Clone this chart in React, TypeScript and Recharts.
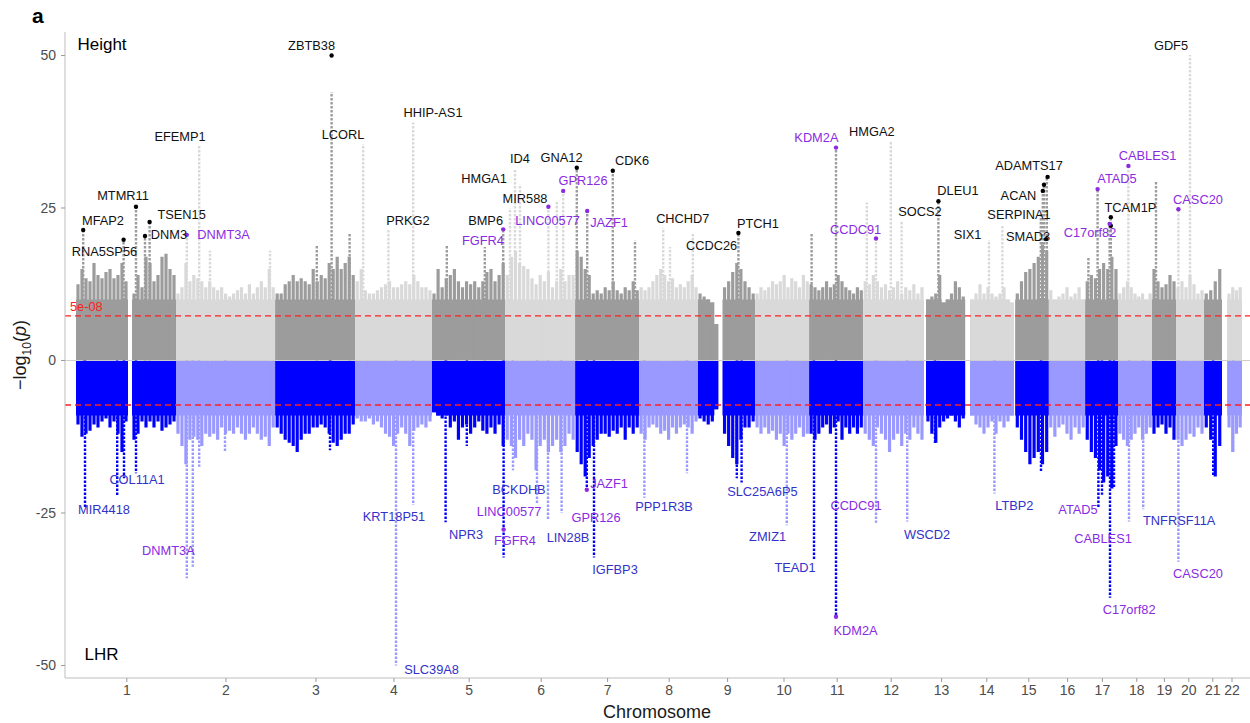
import React from "react";
import { ComposedChart, Area, Line, Scatter, XAxis, YAxis, ReferenceLine } from "recharts";

const FONT = "'Liberation Sans', Arial, sans-serif";

// chromosome layout, cumulative position in Mb
const chromosomes = ["1", "2", "3", "4", "5", "6", "7", "8", "9", "10", "11", "12", "13", "14", "15", "16", "17", "18", "19", "20", "21", "22"];
const chrStart = [0, 250, 498, 698, 890, 1073, 1248, 1408, 1555, 1698, 1833, 1968, 2125, 2235, 2348, 2432, 2523, 2605, 2690, 2750, 2820, 2878];
const chrEnd = [250, 498, 698, 890, 1073, 1248, 1408, 1555, 1698, 1833, 1968, 2120, 2223, 2345, 2432, 2523, 2605, 2690, 2750, 2820, 2865, 2915];
const chrCenter = [127, 375, 600, 795, 983, 1163, 1329, 1483, 1629, 1770, 1903, 2038, 2164, 2277, 2382, 2479, 2566, 2652, 2721, 2782, 2842, 2890];

// level up to which the SNP cloud is solid
const solidHeight = 10;
const solidLhr = -9;

// max -log10(p) of the dense cloud, per equal-width bin along each chromosome
const heightBins = [
  [12.5, 15, 13.5, 13, 16, 14, 13.5, 14.5, 15, 13.5, 14, 16, 13, 0, 11, 14, 12, 17, 16, 13, 14, 17, 17.5, 15, 14],
  [11, 12, 16, 13, 14, 13.5, 13, 12, 13, 12, 11.5, 12, 11, 10.5, 11, 11.5, 12, 11, 12.5, 11, 12, 13, 12, 15, 12],
  [11, 11, 12.5, 13, 14, 13, 13.5, 13, 12.5, 15, 13, 14, 13.5, 16, 15, 17, 15, 16, 17, 14],
  [13, 15, 11.5, 11, 11, 11.5, 12, 12.5, 13, 12, 12, 12.5, 13, 12.5, 14, 13, 12, 12, 11.5],
  [11, 15, 12, 13.5, 14, 15, 13, 12, 13, 12.5, 13, 12, 13, 14.5, 15, 13, 14, 16],
  [14, 17, 18, 16, 15.5, 15, 13.5, 12.5, 14, 13, 14.5, 12, 13, 15, 13, 14, 14],
  [18, 17, 15, 14, 11, 11.5, 11, 12, 11.5, 13, 11.5, 11, 12, 11.5, 13, 11.5],
  [12, 11.5, 12, 13, 14, 15, 14, 13, 13.5, 12, 12.5, 12, 13, 14, 12],
  [11, 10.5, 10, 9.5, 6, 0, 12, 13, 14.5, 16, 15, 13, 12, 11],
  [11, 12, 11.5, 12, 13, 12.5, 13, 14, 12, 13.5, 13, 12, 14, 13],
  [12.5, 12, 11.5, 12, 13, 12, 12.5, 14, 13, 12, 11.5, 11, 12, 11.5],
  [13, 12.5, 14, 13, 12, 12.5, 11.5, 12, 13, 11, 12, 11.5, 12.5, 11, 12],
  [10, 10.5, 11, 14, 9.5, 10, 11, 13, 12, 10.5],
  [10, 11, 12.5, 11, 12, 11, 10.5, 11, 12, 10, 9.5],
  [11, 13, 14.5, 15, 16, 17, 19, 18],
  [11.5, 10, 10.5, 11, 12, 10.5, 11, 12, 10],
  [13, 14, 13.5, 15, 16, 15, 17, 15],
  [11, 12, 13, 12, 11, 10.5, 11, 10, 11],
  [15, 13, 12, 12.5, 14, 13],
  [12, 13, 12, 14, 12.5, 11, 11.5],
  [11, 11.5, 13, 15],
  [11, 12, 11.5, 12],
];

const lhrBins = [
  [-10.5, -12.5, -12, -11.5, -10.5, -11, -10, -9.5, -11, -10, -12, -15, -10, 0, -13, -12, -10, -11, -10, -11, -10, -11.5, -11, -10.5, -10],
  [-12, -14, -17, -13, -12.5, -13, -14, -12, -12.5, -12, -13, -11, -12, -11.5, -12, -11, -12, -13, -12, -11, -12, -13, -12.5, -14, -11],
  [-11, -12, -13, -13.5, -14, -15, -13, -12, -12, -11, -11, -10.5, -11, -12, -13.5, -14, -13, -12, -12, -10.5],
  [-9.5, -10, -10, -9.5, -10.5, -10, -11, -12, -12.5, -14, -12, -11, -12, -14, -11.5, -11, -10.5, -11, -10],
  [-8.5, -9, -9.5, -9, -11, -10, -13, -11, -10.5, -12, -11, -10, -11.5, -12, -11, -12, -10.5, -14],
  [-13, -14, -16, -13, -14, -12, -13, -18, -14, -13, -15, -14, -13, -15, -14, -12, -13],
  [-15, -17, -19, -16, -14, -13, -12, -12, -12.5, -11.5, -12, -11, -13, -11, -12, -11],
  [-12, -13, -11, -10.5, -11, -12, -11.5, -13, -11, -12, -11, -10.5, -11, -12, -10],
  [-9.5, -10, -10.5, -10, -8, 0, -12, -14, -16, -17, -13, -11, -11, -10],
  [-11, -12, -11, -12, -11.5, -13, -12, -14, -12, -13, -12, -11, -12.5, -12],
  [-12, -13, -12, -11, -10.5, -12, -11, -10, -13, -11, -12, -11, -12, -11],
  [-12, -13, -14, -11, -12, -13, -15, -13, -12, -14, -12, -13, -11, -12, -13],
  [-10, -12, -13.5, -11, -10, -9.5, -9, -10, -11, -9.5],
  [-9, -10.5, -11, -12, -11, -10, -12, -10, -11, -10, -9],
  [-11, -13, -15, -17, -16, -15, -17, -15],
  [-11, -12.5, -11, -10.5, -12, -13, -11, -12, -11],
  [-13, -15, -16, -18, -20, -19, -21, -14],
  [-12, -13, -14, -13, -12, -11, -13, -12, -11],
  [-12, -11, -10.5, -12, -11, -13],
  [-13, -14, -13, -12, -12.5, -11, -12],
  [-11, -13, -19, -14],
  [-11, -15, -12, -11],
];

// [chromosome, position, top of the column]
const heightPeaks: [number, number, number][] = [
  [1, 18, 21.4], [1, 119, 19.8], [1, 150, 25.2], [1, 172.5, 20.4], [1, 184, 22.7],
  [2, 277, 20.6], [2, 308, 35.2], [2, 335, 18], [2, 485, 18],
  [3, 602, 19], [3, 639, 44], [3, 684, 21],
  [4, 718, 35.5], [4, 781, 21.4], [4, 843, 39],
  [5, 927, 19], [5, 1022, 18.6], [5, 1068, 21.5],
  [6, 1085, 25], [6, 1097.5, 31.3], [6, 1110, 28.9], [6, 1181, 25.2], [6, 1202, 26], [6, 1218, 27.8],
  [7, 1252, 31.6], [7, 1278, 24.5], [7, 1342, 31.1], [7, 1397.5, 19.7],
  [8, 1468, 21.7], [8, 1485, 18.6], [8, 1542, 20.9],
  [9, 1656, 20.9],
  [11, 1839, 20.9], [11, 1900, 34.9],
  [12, 1977, 25.9], [12, 2000, 20], [12, 2037, 36], [12, 2064, 23],
  [13, 2156, 26.1],
  [14, 2282.5, 19.75], [14, 2316, 22.1],
  [15, 2412, 24], [15, 2417, 27.8], [15, 2420, 28.8], [15, 2427, 30.1],
  [17, 2531, 17], [17, 2554, 28.1], [17, 2584, 22.9], [17, 2587, 23.5],
  [18, 2631, 31.9],
  [19, 2700, 29.5],
  [20, 2756, 24.8], [20, 2785, 50.1],
];

const lhrPeaks: [number, number, number][] = [
  [1, 22.5, -24], [1, 103, -22.3], [1, 120, -19.3], [1, 150, -18.5],
  [2, 277, -35.7], [2, 292, -33.8], [2, 308, -17.4], [2, 372.5, -15],
  [3, 635, -14.7],
  [4, 800, -50], [4, 843, -23.7],
  [5, 924, -26.5], [5, 977, -14], [5, 1069, -32.3],
  [6, 1092.5, -18], [6, 1152.5, -23.4], [6, 1180, -26], [6, 1214, -25],
  [7, 1277, -21.2], [7, 1295, -32.3],
  [8, 1421, -22.5], [8, 1527.5, -18.5],
  [9, 1652, -19.3], [9, 1664, -20],
  [10, 1777, -27],
  [11, 1845, -32.6], [11, 1900, -42],
  [12, 2000, -26.6], [12, 2078, -26.4],
  [13, 2147.5, -13.6],
  [14, 2296, -21.8],
  [15, 2412.5, -18.2],
  [17, 2556, -24], [17, 2565, -22], [17, 2585, -38.9], [17, 2595, -21],
  [18, 2632.5, -26.4], [18, 2668, -24.4],
  [20, 2756, -33],
  [21, 2843, -19],
  [22, 2892.5, -15.1],
];

// lead SNPs: [gene, position, value, group]
const leadHits: [string, number, number, string][] = [
  ["MFAP2", 18, 21.4, "height"], ["RNA5SP56", 119, 19.8, "height"], ["MTMR11", 150, 25.2, "height"],
  ["DNM3", 172.5, 20.4, "height"], ["TSEN15", 184, 22.7, "height"], ["ZBTB38", 639, 50, "height"],
  ["GNA12", 1252, 31.6, "height"], ["CDK6", 1342, 31.1, "height"], ["PTCH1", 1656, 20.9, "height"],
  ["DLEU1", 2156, 26.1, "height"], ["ACAN", 2417, 27.8, "height"], ["ACAN", 2420, 28.8, "height"],
  ["ADAMTS17", 2429, 30.1, "height"], ["SMAD3", 2425, 19.9, "height"], ["TCAM1P", 2587, 23.5, "height"],
  ["TCAM1P", 2587, 22.1, "height"],
  ["DNMT3A", 277, 20.6, "shared"], ["FGFR4", 1068, 21.5, "shared"], ["LINC00577", 1181, 25.2, "shared"],
  ["GPR126", 1218, 27.8, "shared"], ["JAZF1", 1278, 24.5, "shared"], ["KDM2A", 1900, 34.9, "shared"],
  ["CCDC91", 2000, 20, "shared"], ["ATAD5", 2554, 28.1, "shared"], ["C17orf82", 2584, 22.4, "shared"],
  ["CABLES1", 2631, 31.9, "shared"], ["CASC20", 2756, 24.8, "shared"],
  ["FGFR4", 1069, -27.7, "shared"], ["JAZF1", 1277, -21.2, "shared"], ["KDM2A", 1900, -42, "shared"],
];

// gene labels: [text, position, value, group]
const geneLabels: [string, number, number, string][] = [
  ["ZBTB38", 589, 51.7, "height"], ["EFEMP1", 260, 36.7, "height"], ["MTMR11", 117.5, 27.1, "height"],
  ["MFAP2", 67.5, 23, "height"], ["TSEN15", 264, 24, "height"], ["DNM3", 232.5, 20.6, "height"],
  ["DNMT3A", 369, 20.6, "shared"], ["RNA5SP56", 71, 17.8, "height"], ["LCORL", 667.5, 37.1, "height"],
  ["HHIP-AS1", 892.5, 40.7, "height"], ["PRKG2", 830, 22.9, "height"], ["ID4", 1110, 33.1, "height"],
  ["GNA12", 1214, 33.2, "height"], ["HMGA1", 1020, 29.8, "height"], ["CDK6", 1390, 32.8, "height"],
  ["GPR126", 1267.5, 29.5, "shared"], ["MIR588", 1122.5, 26.6, "height"], ["BMP6", 1024, 23, "height"],
  ["LINC00577", 1179, 23, "shared"], ["JAZF1", 1332.5, 22.6, "shared"], ["FGFR4", 1017.5, 19.6, "shared"],
  ["CHCHD7", 1517, 23.3, "height"], ["PTCH1", 1705, 22.5, "height"], ["CCDC26", 1589, 18.8, "height"],
  ["KDM2A", 1851, 36.5, "shared"], ["HMGA2", 1989.5, 37.5, "height"], ["CCDC91", 1949, 21.5, "shared"],
  ["SOCS2", 2110, 24.5, "height"], ["DLEU1", 2205, 27.8, "height"], ["SIX1", 2229, 20.6, "height"],
  ["ADAMTS17", 2382.5, 31.9, "height"], ["ACAN", 2356, 27.1, "height"], ["SERPINA1", 2357.5, 23.9, "height"],
  ["SMAD3", 2380, 20.3, "height"], ["ATAD5", 2602.5, 29.8, "shared"], ["CABLES1", 2679, 33.6, "shared"],
  ["TCAM1P", 2636, 25, "height"], ["C17orf82", 2535, 21, "shared"], ["CASC20", 2805, 26.4, "shared"],
  ["GDF5", 2737.5, 51.6, "height"],
  ["COL11A1", 152.5, -19.5, "lhr"], ["MIR4418", 70, -24.4, "lhr"], ["DNMT3A", 231, -31.2, "shared"],
  ["KRT18P51", 795, -25.6, "lhr"], ["SLC39A8", 889, -50.6, "lhr"], ["NPR3", 975, -28.6, "lhr"],
  ["BCKDHB", 1107.5, -21.1, "lhr"], ["LINC00577", 1082.5, -24.7, "shared"], ["FGFR4", 1097.5, -29.5, "shared"],
  ["LIN28B", 1230, -29, "lhr"], ["GPR126", 1300, -25.7, "shared"], ["JAZF1", 1332.5, -20.2, "shared"],
  ["IGFBP3", 1347.5, -34.2, "lhr"], ["PPP1R3B", 1470, -24, "lhr"], ["SLC25A6P5", 1716, -21.5, "lhr"],
  ["ZMIZ1", 1729, -28.9, "lhr"], ["TEAD1", 1797.5, -33.9, "lhr"], ["CCDC91", 1950, -23.7, "shared"],
  ["KDM2A", 1949, -44.3, "shared"], ["WSCD2", 2127.5, -28.6, "lhr"], ["LTBP2", 2346, -23.7, "lhr"],
  ["ATAD5", 2505, -24.5, "shared"], ["CABLES1", 2567.5, -29.1, "shared"], ["TNFRSF11A", 2758, -26.3, "lhr"],
  ["CASC20", 2805, -34.9, "shared"], ["C17orf82", 2633, -40.8, "shared"],
];

const panelLabels: [string, number, number][] = [
  ["Height", 65, 51.8],
  ["LHR", 64, -48.2],
];

const DARK_GREY = "#9c9c9c";
const LIGHT_GREY = "#d9d9d9";
const DARK_BLUE = "#0000ff";
const LIGHT_BLUE = "#9999ff";
const textColour: Record<string, string> = { height: "#111111", lhr: "#3232c8", shared: "#8a2be2" };
const dotColour: Record<string, string> = { height: "#000000", lhr: "#0000ff", shared: "#8a2be2" };

// solid part of the cloud: step area capped at the solid level
function solidData(i: number, bins: number[], cap: number) {
  const w = (chrEnd[i] - chrStart[i]) / bins.length;
  const clip = (y: number) => (cap > 0 ? Math.min(y, cap) : Math.max(y, cap));
  const pts = bins.map((y, k) => ({ x: chrStart[i] + k * w, y: clip(y) }));
  pts.push({ x: chrEnd[i], y: clip(bins[bins.length - 1]) });
  return pts;
}

// ragged top of the cloud: one stroke per bin, grouped by chromosome parity
function combData(binsList: number[][], odd: boolean) {
  const out: { x: number; y: number | null }[] = [];
  binsList.forEach((bins, i) => {
    if ((i % 2 === 0) !== odd) return;
    const w = (chrEnd[i] - chrStart[i]) / bins.length;
    bins.forEach((y, k) => {
      if (y === 0) return;
      const x = chrStart[i] + (k + 0.5) * w;
      out.push({ x, y: 0 }, { x, y }, { x, y: null });
    });
  });
  return out;
}

function spikeData(peaks: [number, number, number][], odd: boolean) {
  const out: { x: number; y: number | null }[] = [];
  peaks
    .filter((p) => (p[0] % 2 === 1) === odd)
    .forEach(([, x, y]) => {
      out.push({ x, y: 0 }, { x, y }, { x, y: null });
    });
  return out;
}

const dotData = leadHits.map(([gene, x, y, group]) => ({ gene, x, y, group }));
const labelData = geneLabels.map(([text, x, y, group]) => ({ text, x, y, group }));
const panelData = panelLabels.map(([text, x, y]) => ({ text, x, y }));

const DotShape = (props: any) => {
  const { cx, cy, payload } = props;
  return <circle cx={cx} cy={cy} r={2.2} fill={dotColour[payload.group]} />;
};

const GeneText = (props: any) => {
  const { cx, cy, payload } = props;
  return (
    <text x={cx} y={cy} textAnchor="middle" dominantBaseline="central" fontSize={12.8} fontFamily={FONT} fill={textColour[payload.group]}>
      {payload.text}
    </text>
  );
};

const PanelText = (props: any) => {
  const { cx, cy, payload } = props;
  return (
    <text x={cx} y={cy} textAnchor="middle" dominantBaseline="central" fontSize={17} fontFamily={FONT} fill="#000">
      {payload.text}
    </text>
  );
};

export default function App() {
  const tickStyle = { fill: "#4d4d4d", fontSize: 14, fontFamily: FONT };
  const combs = [
    { key: "hc-odd", data: combData(heightBins, true), colour: DARK_GREY },
    { key: "hc-even", data: combData(heightBins, false), colour: LIGHT_GREY },
    { key: "lc-odd", data: combData(lhrBins, true), colour: DARK_BLUE },
    { key: "lc-even", data: combData(lhrBins, false), colour: LIGHT_BLUE },
  ];
  const spikes = [
    { key: "hs-odd", data: spikeData(heightPeaks, true), colour: DARK_GREY },
    { key: "hs-even", data: spikeData(heightPeaks, false), colour: LIGHT_GREY },
    { key: "ls-odd", data: spikeData(lhrPeaks, true), colour: DARK_BLUE },
    { key: "ls-even", data: spikeData(lhrPeaks, false), colour: LIGHT_BLUE },
  ];
  return (
    <div style={{ position: "relative", width: 1250, height: 723, background: "#fff" }}>
      <style>{"body{margin:0}"}</style>
      <ComposedChart width={1250} height={723} margin={{ top: 32, right: 0, bottom: 15, left: 0 }}>
        <XAxis
          type="number"
          dataKey="x"
          domain={[-27.5, 2935]}
          allowDataOverflow
          ticks={chrCenter}
          interval={0}
          tickFormatter={(v: number) => chromosomes[chrCenter.indexOf(v)]}
          height={30}
          tick={tickStyle}
          tickSize={4}
          tickMargin={3}
          axisLine={{ stroke: "#bdbdbd" }}
          tickLine={{ stroke: "#999" }}
        />
        <YAxis
          type="number"
          domain={[-52.05, 53.85]}
          allowDataOverflow
          ticks={[-50, -25, 0, 25, 50]}
          width={65}
          tick={tickStyle}
          tickSize={4}
          tickMargin={5}
          axisLine={{ stroke: "#bdbdbd" }}
          tickLine={{ stroke: "#999" }}
        />
        {chromosomes.map((c, i) => (
          <Area
            key={`h${c}`}
            data={solidData(i, heightBins[i], solidHeight)}
            dataKey="y"
            type="stepAfter"
            stroke="none"
            fill={i % 2 === 0 ? DARK_GREY : LIGHT_GREY}
            fillOpacity={1}
            dot={false}
            activeDot={false}
            isAnimationActive={false}
          />
        ))}
        {chromosomes.map((c, i) => (
          <Area
            key={`l${c}`}
            data={solidData(i, lhrBins[i], solidLhr)}
            dataKey="y"
            type="stepAfter"
            stroke="none"
            fill={i % 2 === 0 ? DARK_BLUE : LIGHT_BLUE}
            fillOpacity={1}
            dot={false}
            activeDot={false}
            isAnimationActive={false}
          />
        ))}
        {combs.map((s) => (
          <Line key={s.key} data={s.data} dataKey="y" stroke={s.colour} strokeWidth={3.2} dot={false} activeDot={false} connectNulls={false} isAnimationActive={false} />
        ))}
        <ReferenceLine y={0} stroke="#cfcfcf" strokeWidth={1} />
        {spikes.map((s) => (
          <Line key={s.key} data={s.data} dataKey="y" stroke={s.colour} strokeWidth={2.4} strokeDasharray="2.5 1.5" dot={false} activeDot={false} connectNulls={false} isAnimationActive={false} />
        ))}
        <ReferenceLine
          y={7.3}
          stroke="#ff2020"
          strokeDasharray="6 4"
          strokeWidth={1.3}
          label={{ value: "5e-08", position: "insideBottomLeft", offset: 5, fill: "#ff2020", fontSize: 12.8, fontFamily: FONT }}
        />
        <ReferenceLine y={-7.3} stroke="#ff2020" strokeDasharray="6 4" strokeWidth={1.3} />
        <Scatter data={dotData} dataKey="y" shape={DotShape} isAnimationActive={false} />
        <Scatter data={labelData} dataKey="y" shape={GeneText} isAnimationActive={false} />
        <Scatter data={panelData} dataKey="y" shape={PanelText} isAnimationActive={false} />
      </ComposedChart>
      <div style={{ position: "absolute", left: 32, top: 4, fontFamily: FONT, fontSize: 21, fontWeight: "bold", lineHeight: "24px" }}>a</div>
      <div
        style={{
          position: "absolute",
          left: 22,
          top: 355,
          transform: "translate(-50%, -50%) rotate(-90deg)",
          whiteSpace: "nowrap",
          fontFamily: FONT,
          fontSize: 18,
          color: "#1a1a1a",
        }}
      >
        −log<sub style={{ fontSize: 12 }}>10</sub>(<i>p</i>)
      </div>
      <div
        style={{
          position: "absolute",
          left: 657,
          top: 712,
          transform: "translate(-50%, -50%)",
          whiteSpace: "nowrap",
          fontFamily: FONT,
          fontSize: 18,
          color: "#1a1a1a",
        }}
      >
        Chromosome
      </div>
    </div>
  );
}
